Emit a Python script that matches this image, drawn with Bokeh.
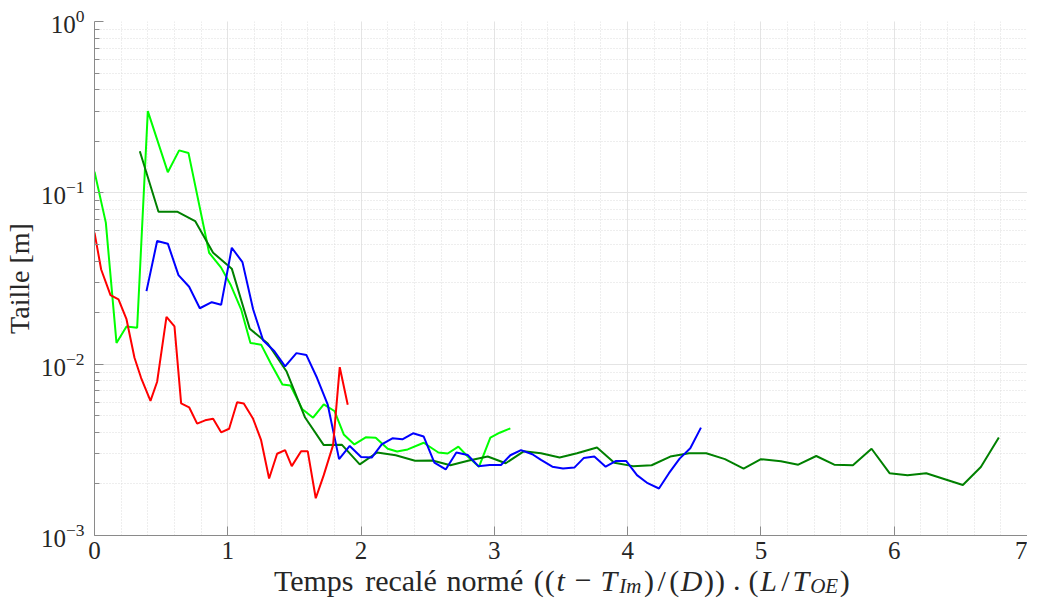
from bokeh.plotting import figure
from bokeh.models import FixedTicker, Label, Range1d
from bokeh.layouts import column
from bokeh.embed import file_html
from bokeh.resources import INLINE

# ---------------- data ----------------
red_x = [0.00, 0.05, 0.12, 0.18, 0.24, 0.30, 0.35, 0.42, 0.47, 0.54, 0.60, 0.65, 0.71, 0.77, 0.83, 0.89,
         0.95, 1.01, 1.07, 1.12, 1.19, 1.25, 1.31, 1.37, 1.43, 1.48, 1.55, 1.60, 1.66, 1.72, 1.79, 1.84, 1.90]
red_y = [0.0585, 0.0357, 0.0253, 0.0239, 0.0183, 0.0109, 0.0083, 0.0061, 0.0079, 0.0189, 0.0166, 0.0059,
         0.0056, 0.0045, 0.0047, 0.0048, 0.0040, 0.0042, 0.0060, 0.0059, 0.0048, 0.0036, 0.00215, 0.0030,
         0.00315, 0.00254, 0.0031, 0.0031, 0.00165, 0.00225, 0.00337, 0.0096, 0.0058]

lime_x = [0.00, 0.085, 0.165, 0.24, 0.32, 0.40, 0.55, 0.635, 0.705, 0.86, 0.95, 1.02, 1.10, 1.17, 1.25,
          1.32, 1.41, 1.47, 1.56, 1.64, 1.72, 1.80, 1.87, 1.95, 2.035, 2.11, 2.20, 2.27, 2.35, 2.47, 2.58,
          2.65, 2.73, 2.80, 2.885, 2.97, 3.04, 3.12]
lime_y = [0.133, 0.067, 0.0133, 0.0166, 0.0163, 0.300, 0.132, 0.177, 0.171, 0.0447, 0.0366, 0.0292,
          0.0209, 0.0133, 0.0130, 0.0102, 0.0076, 0.0075, 0.00545, 0.00487, 0.00583, 0.00533, 0.00389,
          0.00340, 0.00374, 0.00372, 0.00321, 0.00309, 0.00318, 0.00348, 0.00305, 0.00301, 0.00330,
          0.00289, 0.00252, 0.00373, 0.00398, 0.00422]

dgreen_x = [0.34, 0.48, 0.62, 0.755, 0.89, 1.03, 1.165, 1.30, 1.44, 1.58, 1.72, 1.855, 1.99, 2.12, 2.26,
            2.405, 2.535, 2.67, 2.81, 2.95, 3.085, 3.22, 3.35, 3.49, 3.62, 3.77, 3.90, 4.04, 4.18, 4.32,
            4.46, 4.59, 4.73, 4.87, 5.00, 5.15, 5.28, 5.415, 5.55, 5.69, 5.83, 5.965, 6.10, 6.24, 6.38,
            6.515, 6.65, 6.785]
dgreen_y = [0.175, 0.0776, 0.0776, 0.0684, 0.0447, 0.0361, 0.0161, 0.0132, 0.0091, 0.00488, 0.00337,
            0.00339, 0.00260, 0.00305, 0.00294, 0.00273, 0.00274, 0.00257, 0.00274, 0.00289, 0.00264,
            0.00310, 0.00302, 0.00285, 0.00302, 0.00326, 0.00266, 0.00254, 0.00257, 0.00289, 0.00302,
            0.00302, 0.00279, 0.00246, 0.00279, 0.00271, 0.00259, 0.00291, 0.00259, 0.00257, 0.00321,
            0.00231, 0.00225, 0.00231, 0.00213, 0.00197, 0.00251, 0.00373]

blue_x = [0.39, 0.47, 0.55, 0.63, 0.71, 0.79, 0.88, 0.95, 1.03, 1.11, 1.19, 1.265, 1.35, 1.43, 1.515,
          1.59, 1.67, 1.75, 1.835, 1.915, 2.00, 2.08, 2.155, 2.235, 2.31, 2.39, 2.47, 2.55, 2.635, 2.715,
          2.80, 2.88, 2.965, 3.05, 3.12, 3.20, 3.285, 3.35, 3.435, 3.515, 3.60, 3.67, 3.75, 3.835, 3.91,
          3.99, 4.07, 4.15, 4.235, 4.31, 4.39, 4.47, 4.55]
blue_y = [0.0267, 0.0523, 0.0505, 0.0331, 0.0283, 0.0212, 0.0230, 0.0222, 0.0478, 0.0394, 0.0209, 0.0138,
          0.0119, 0.0097, 0.0116, 0.0113, 0.0083, 0.0058, 0.00279, 0.00333, 0.00287, 0.00285, 0.00340,
          0.00369, 0.00364, 0.00395, 0.00378, 0.00266, 0.00243, 0.00305, 0.00295, 0.00254, 0.00258,
          0.00258, 0.00294, 0.00315, 0.00298, 0.00276, 0.00252, 0.00246, 0.00249, 0.00283, 0.00289,
          0.00252, 0.00272, 0.00272, 0.00225, 0.00202, 0.00188, 0.00231, 0.00281, 0.00323, 0.00426]

x_ticks = [0, 1, 2, 3, 4, 5, 6, 7]
y_ticks = [1e-3, 1e-2, 1e-1, 1e0]
y_label = "Taille [m]"

# ---------------- figure ----------------
FONT = "Liberation Serif"
TXT = "#262626"
AX = "#8a8a8a"

LEFT, TOP, BOTTOM = 89, 21, 36
FW, FH = 933, 514

p = figure(frame_width=FW, frame_height=FH, y_axis_type="log",
           x_range=(0, 7), y_range=(1e-3, 1e0),
           output_backend="svg", toolbar_location=None,
           min_border_left=LEFT, min_border_right=0, min_border_top=TOP, min_border_bottom=BOTTOM)
p.outline_line_color = None
p.background_fill_color = "white"
p.border_fill_color = "white"

x_minor = [i * 0.2 for i in range(36)]
y_minor = [m * 10.0 ** e for e in (-3, -2, -1) for m in range(2, 10)]
p.xaxis.ticker = FixedTicker(ticks=x_ticks, minor_ticks=x_minor)
p.yaxis.ticker = FixedTicker(ticks=y_ticks, minor_ticks=y_minor)

for ax in (p.xaxis[0], p.yaxis[0]):
    ax.axis_line_color = AX
    ax.axis_line_width = 1
    ax.major_tick_line_color = AX
    ax.minor_tick_line_color = AX
    ax.major_tick_in = 9
    ax.major_tick_out = 0
    ax.minor_tick_out = 0
    ax.major_label_text_font = FONT
    ax.major_label_text_font_size = "25px"
    ax.major_label_text_color = TXT

p.xaxis.minor_tick_in = 0
p.xaxis.major_label_standoff = 6
p.xaxis.axis_label = None
p.yaxis.minor_tick_in = 5
p.yaxis.major_label_standoff = 10
p.yaxis.axis_label = y_label
p.yaxis.axis_label_text_font = FONT
p.yaxis.axis_label_text_font_size = "28px"
p.yaxis.axis_label_text_font_style = "normal"
p.yaxis.axis_label_text_color = TXT
p.yaxis.axis_label_standoff = 3

for g in (p.xgrid[0], p.ygrid[0]):
    g.grid_line_color = "#e4e4e4"
    g.grid_line_width = 1
    g.minor_grid_line_color = "#dcdcdc"
    g.minor_grid_line_dash = "1 2"
    g.minor_grid_line_width = 1

p.line(lime_x, lime_y, line_color="#00ff00", line_width=2)
p.line(dgreen_x, dgreen_y, line_color="#008000", line_width=2)
p.line(blue_x, blue_y, line_color="#0000ff", line_width=2)
p.line(red_x, red_y, line_color="#ff0000", line_width=2)

# ---------------- composed x-axis label (transparent strip overlapping the plot's bottom border) ----------
STRIP_H = 44
OVERLAP = 16
lab = figure(frame_width=FW, frame_height=STRIP_H, output_backend="svg", toolbar_location=None,
             x_axis_location=None, y_axis_location=None,
             x_range=Range1d(0, FW), y_range=Range1d(STRIP_H, 0),
             min_border_left=LEFT, min_border_right=0, min_border_top=0, min_border_bottom=0)
lab.outline_line_color = None
lab.grid.visible = False
lab.background_fill_color = None
lab.border_fill_color = None
lab.margin = (-OVERLAP, 0, 0, 0)

EM = 28.5      # layout em (px)
FS = 30        # render font size (px)
# (text, italic, subscript, advance in em)
pieces = [
    ("Temps", False, False, 2.949), ("", False, False, 0.333),
    ("recalé", False, False, 2.502), ("", False, False, 0.333),
    ("normé", False, False, 2.725), ("", False, False, 0.333),
    ("(", False, False, 0.389), ("(", False, False, 0.389),
    ("t", True, False, 0.361), ("", False, False, 0.222),
    ("\u2212", False, False, 0.778), ("", False, False, 0.222),
    ("T", True, False, 0.584), ("Im", True, True, 0.923),
    (")", False, False, 0.389), ("/", False, False, 0.5), ("(", False, False, 0.389),
    ("D", True, False, 0.828), (")", False, False, 0.389), (")", False, False, 0.389),
    ("", False, False, 0.25), (".", False, False, 0.278), ("", False, False, 0.25),
    ("(", False, False, 0.389), ("L", True, False, 0.681), ("/", False, False, 0.5),
    ("T", True, False, 0.584), ("OE", True, True, 1.051), (")", False, False, 0.389),
]
total = sum(a for *_, a in pieces) * EM
cursor = FW / 2 - total / 2          # relative to the frame's left edge
BASE_FROM_TOP = 25
SUB_SHIFT = 5.5
for text, ital, sub, adv in pieces:
    w = adv * EM
    if text:
        size = FS * 0.7 if sub else FS
        lab.add_layout(Label(x=cursor + w / 2, y=BASE_FROM_TOP + (SUB_SHIFT if sub else 0),
                             x_units="screen", y_units="data", text=text,
                             text_font=FONT, text_font_size=f"{size:.1f}px",
                             text_font_style="italic" if ital else "normal",
                             text_color=TXT, text_align="center", text_baseline="alphabetic"))
    cursor += w

layout = column(p, lab, spacing=0)
open("out.html", "w").write(file_html(layout, INLINE))
